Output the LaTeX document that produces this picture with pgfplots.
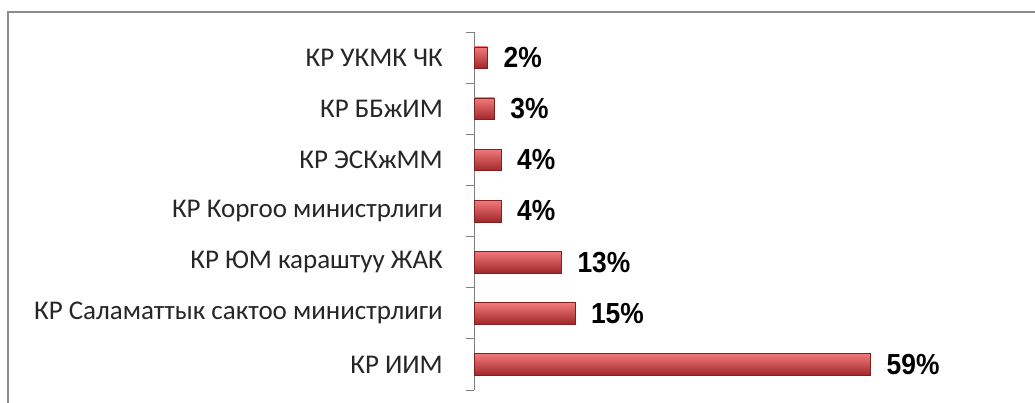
\documentclass[border=0pt]{standalone}
\usepackage{fontspec}
\setmainfont{Carlito}
\newfontfamily\lbl[FakeStretch=0.91]{Liberation Sans}
\usepackage{pgfplots}
\pgfplotsset{compat=1.18}
\definecolor{barTop}{HTML}{F27A7A}
\definecolor{barMid}{HTML}{D43C3C}
\definecolor{barBot}{HTML}{A02828}
\definecolor{frameGray}{HTML}{8C8C8C}
\pgfplotsset{mybar/.style={xbar, bar width=21.5pt, bar shift=0pt, draw=barBot!80!black, line width=0.4pt, top color=barTop, middle color=barMid, bottom color=barBot}}
\begin{document}
\begin{tikzpicture}[x=1pt,y=1pt]
\useasboundingbox (0,0) rectangle (1035,403);
\fill[white] (0,0) rectangle (1035,403);
\draw[frameGray, line width=2pt] (8,0) -- (8,391) -- (1035,391);
\begin{axis}[
  at={(474pt,13pt)}, anchor=south west,
  scale only axis,
  width=537.6pt, height=358pt,
  xmin=0, xmax=80,
  ymin=-0.5, ymax=6.5,
  axis x line=none,
  axis y line*=left,
  axis line style={-, gray, line width=0.8pt},
  ytick={0,1,2,3,4,5,6},
  yticklabels={КР ИИМ, КР Саламаттык сактоо министрлиги, КР ЮМ караштуу ЖАК, КР Коргоо министрлиги, КР ЭСКжММ, КР ББжИМ, КР УКМК ЧК},
  major tick length=0pt,
  minor ytick={-0.5,0.5,1.5,2.5,3.5,4.5,5.5,6.5},
  minor tick length=8pt,
  tick align=outside,
  minor tick style={gray, line width=0.8pt},
  yticklabel style={font=\fontsize{27}{30}\selectfont, text=black!85, xshift=-31pt, inner sep=0pt},
  xbar, bar width=21.5pt,
  clip=false,
  nodes near coords={\lbl\bfseries\pgfmathprintnumber[assume math mode=true]{\pgfplotspointmeta}\%},
  nodes near coords style={anchor=west, inner sep=0pt, xshift=16pt, font=\fontsize{29}{32}\selectfont, text=black},
]
\addplot[mybar] coordinates {(59,0)};
\addplot[mybar] coordinates {(15,1)};
\addplot[mybar] coordinates {(13,2)};
\addplot[mybar] coordinates {(4,3)};
\addplot[mybar] coordinates {(4,4)};
\addplot[mybar] coordinates {(3,5)};
\addplot[mybar] coordinates {(2,6)};
\end{axis}
\end{tikzpicture}
\end{document}
